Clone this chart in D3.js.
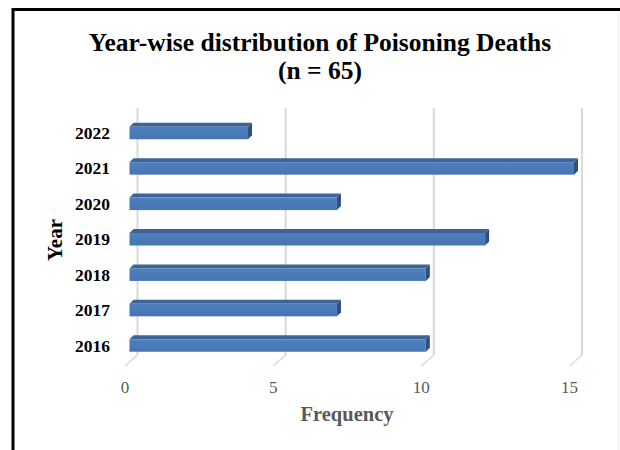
<!DOCTYPE html>
<html><head><meta charset="utf-8">
<script src="https://cdn.jsdelivr.net/npm/d3@7/dist/d3.min.js"></script>
<style>body{margin:0;background:#fff}svg{display:block}text{font-family:"Liberation Serif","Times New Roman",serif}</style>
</head><body><svg id="c" width="620" height="450"></svg>
<script>
const years = ["2022","2021","2020","2019","2018","2017","2016"];
const counts = [4,15,7,12,10,7,10];
const tickValues = [0,5,10,15];
const titleLines = ["Year-wise distribution of Poisoning Deaths","(n = 65)"];
const xTitle = "Frequency";
const yTitle = "Year";

const svg = d3.select("#c");
const x = d3.scaleLinear().domain([0,15]).range([129.5,574]);
const y = d3.scalePoint().domain(years).range([133,345.5]);
const barH = 12.5, dx = 4, dy = 4, wallDx = 8;
const gridTop = 108, gridBottom = 355;

// frame
svg.append("line").attr("x1",13).attr("y1",8).attr("x2",13).attr("y2",450).attr("stroke","#000").attr("stroke-width",3);
svg.append("line").attr("x1",12).attr("y1",9.5).attr("x2",620).attr("y2",9.5).attr("stroke","#000").attr("stroke-width",3);
svg.append("line").attr("x1",618.5).attr("y1",11).attr("x2",618.5).attr("y2",450).attr("stroke","#eeeeee").attr("stroke-width",1);

// gridlines (back wall) + floor diagonals
const g = svg.append("g");
tickValues.forEach(v=>{
  const bx = x(v)+wallDx;
  g.append("line").attr("x1",bx).attr("x2",bx).attr("y1",gridTop).attr("y2",gridBottom).attr("stroke","#d9d9d9").attr("stroke-width",2);
  g.append("line").attr("x1",bx).attr("y1",gridBottom).attr("x2",x(v)-4.5).attr("y2",gridBottom+11).attr("stroke","#d9d9d9").attr("stroke-width",1.5);
});

// gradient
const defs = svg.append("defs");
const lg = defs.append("linearGradient").attr("id","fg").attr("x1",0).attr("y1",0).attr("x2",0).attr("y2",1);
lg.append("stop").attr("offset","0%").attr("stop-color","#4f7fbd");
lg.append("stop").attr("offset","100%").attr("stop-color","#4675b3");

// bars
const bars = svg.append("g").selectAll("g").data(years.map((yr,i)=>({yr,v:counts[i]}))).join("g");
bars.each(function(d){
  const s = d3.select(this);
  const x0 = x(0), x1 = x(d.v), t = y(d.yr)-barH/2, b = t+barH;
  s.append("path").attr("d",`M${x0},${t}L${x0+dx},${t-dy}L${x1+dx},${t-dy}L${x1},${t}Z`).attr("fill","#3c6497");
  s.append("path").attr("d",`M${x1},${t}L${x1+dx},${t-dy}L${x1+dx},${b-dy}L${x1},${b}Z`).attr("fill","#2d4f7c");
  s.append("rect").attr("x",x0).attr("y",t).attr("width",x1-x0).attr("height",barH).attr("fill","url(#fg)");
});

// y labels
svg.append("g").selectAll("text").data(years).join("text")
  .attr("x",110).attr("y",d=>y(d)+6).attr("text-anchor","end")
  .attr("font-size",17.5).attr("font-weight","bold").attr("fill","#000").text(d=>d);

// x tick labels
svg.append("g").selectAll("text").data(tickValues).join("text")
  .attr("x",d=>x(d)-4.5).attr("y",393).attr("text-anchor","middle")
  .attr("font-size",17).attr("fill","#595959").text(d=>d);

// axis titles
svg.append("text").attr("x",347).attr("y",421).attr("text-anchor","middle")
  .attr("font-size",20.5).attr("font-weight","bold").attr("fill","#595959").text(xTitle);
svg.append("text").attr("transform","translate(62,240) rotate(-90)").attr("text-anchor","middle")
  .attr("font-size",21).attr("font-weight","bold").attr("fill","#000").text(yTitle);

// title
svg.append("g").selectAll("text").data(titleLines).join("text")
  .attr("x",320).attr("y",(d,i)=>51+i*28).attr("text-anchor","middle")
  .attr("font-size",25.5).attr("font-weight","bold").attr("fill","#000").text(d=>d);
</script></body></html>
